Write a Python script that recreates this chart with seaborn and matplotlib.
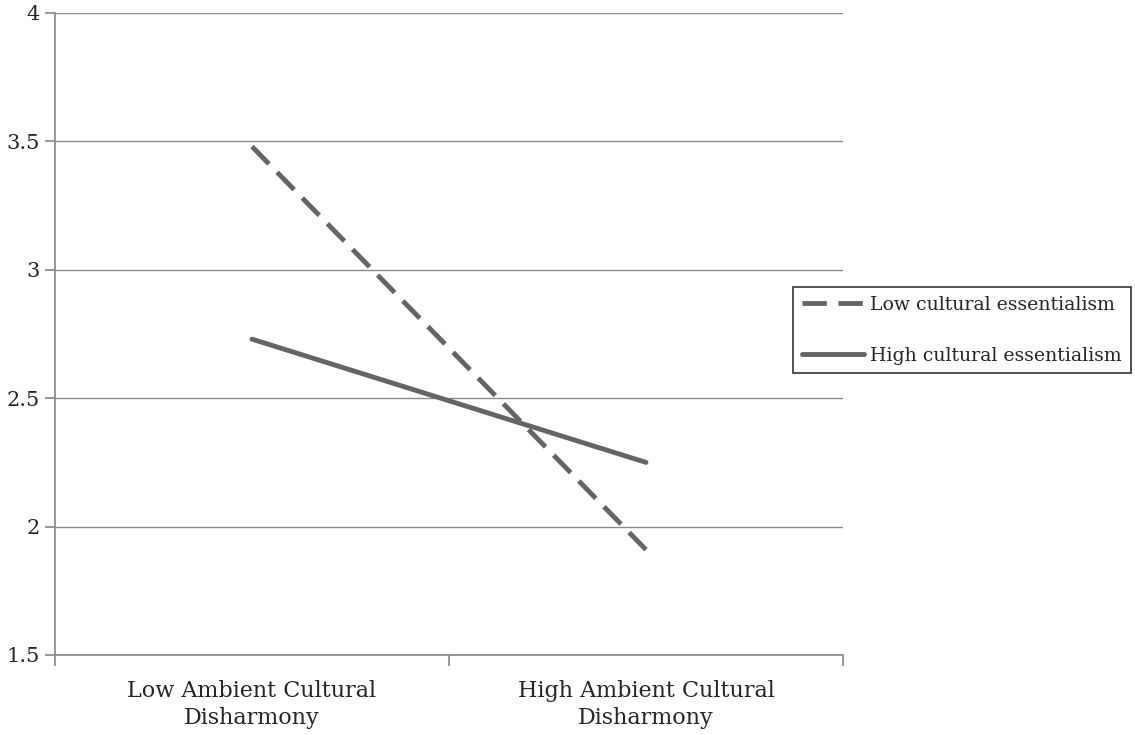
import matplotlib
matplotlib.use("Agg")
import matplotlib.pyplot as plt
import pandas as pd
import seaborn as sns

# values
conditions = ["Low Ambient Cultural\nDisharmony", "High Ambient Cultural\nDisharmony"]
low_essentialism = [3.48, 1.91]
high_essentialism = [2.73, 2.25]
series_names = ["Low cultural essentialism", "High cultural essentialism"]

sns.set_theme(style="white")
plt.rcParams["font.family"] = ["DejaVu Serif"]

df = pd.DataFrame({
    "x": [0.5, 1.5, 0.5, 1.5],
    "y": low_essentialism + high_essentialism,
    "series": [series_names[0]] * 2 + [series_names[1]] * 2,
})

fig = plt.figure(figsize=(11.35, 7.35), dpi=100)
ax = fig.add_axes([55 / 1135, 80 / 735, 788 / 1135, 642 / 735])

line_color = "#656565"
sns.lineplot(data=df, x="x", y="y", hue="series", style="series",
             palette=[line_color, line_color],
             dashes={series_names[0]: (5, 2.4), series_names[1]: ""},
             linewidth=3.5, ax=ax, legend=True)

ax.set_xlim(0, 2)
ax.set_ylim(1.5, 4)
ax.set_yticks([1.5, 2, 2.5, 3, 3.5, 4])
ax.set_yticklabels(["1.5", "2", "2.5", "3", "3.5", "4"], fontsize=15)
ax.yaxis.grid(True, color="#8a8a8a", linewidth=1)
ax.set_axisbelow(True)

ax.set_xticks([0, 1, 2])
ax.set_xticklabels(["", "", ""])
ax.set_xticks([0.5, 1.5], minor=True)
ax.set_xticklabels(conditions, minor=True, fontsize=16, linespacing=1.3)
ax.tick_params(axis="x", which="minor", length=0, pad=18)
ax.tick_params(axis="x", which="major", length=8, color="#8a8a8a", direction="out")
ax.tick_params(axis="y", length=7, color="#8a8a8a", direction="out", pad=4)
ax.tick_params(bottom=True, left=True)

for s in ["top", "right"]:
    ax.spines[s].set_visible(False)
ax.spines["left"].set_color("#8a8a8a")
ax.spines["bottom"].set_color("#8a8a8a")
ax.set_xlabel("")
ax.set_ylabel("")

leg = ax.legend(loc="center left", bbox_to_anchor=((793 - 55) / 788, 0.506),
                borderaxespad=0, frameon=True, fancybox=False, edgecolor="black",
                fontsize=13.6, handlelength=3.3, labelspacing=1.75, borderpad=0.45,
                handletextpad=0.35)
leg.get_frame().set_linewidth(1.2)

fig.savefig("out.png", dpi=100)
